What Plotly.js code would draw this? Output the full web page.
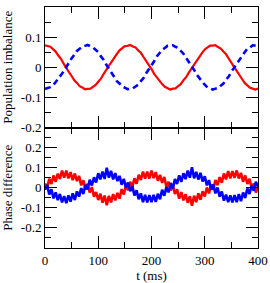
<!DOCTYPE html>
<html><head><meta charset="utf-8">
<script src="https://cdn.plot.ly/plotly-3.0.1.min.js"></script>
<style>html,body{margin:0;padding:0;background:#fff;}#plot{width:270px;height:283px;}</style>
</head><body><div id="plot"></div>
<script>
// Top panel: population imbalance, t every 5 ms
const tTop = [0,5,10,15,20,25,30,35,40,45,50,55,60,65,70,75,80,85,90,95,100,105,110,115,120,125,130,135,140,145,150,155,160,165,170,175,180,185,190,195,200,205,210,215,220,225,230,235,240,245,250,255,260,265,270,275,280,285,290,295,300,305,310,315,320,325,330,335,340,345,350,355,360,365,370,375,380,385,390,395,400];
const popRed = [0.073,0.071,0.068,0.060,0.052,0.039,0.028,0.012,0.000,-0.016,
-0.029,-0.043,-0.052,-0.063,-0.067,-0.073,-0.072,-0.071,-0.065,-0.059,
-0.048,-0.038,-0.023,-0.011,0.005,0.018,0.033,0.044,0.056,0.063,
0.070,0.071,0.074,0.069,0.066,0.056,0.048,0.034,0.022,0.006,
-0.006,-0.022,-0.034,-0.047,-0.056,-0.065,-0.069,-0.074,-0.071,-0.070,
-0.063,-0.056,-0.043,-0.033,-0.018,-0.005,0.011,0.023,0.038,0.048,
0.059,0.065,0.072,0.072,0.073,0.067,0.062,0.052,0.043,0.029,
0.017,0.001,-0.012,-0.028,-0.039,-0.052,-0.060,-0.068,-0.071,-0.074,
-0.071];
const popBlue = [-0.072,-0.070,-0.066,-0.061,-0.050,-0.041,-0.026,-0.014,0.002,0.015,
0.030,0.041,0.054,0.061,0.069,0.071,0.074,0.070,0.066,0.058,
0.050,0.036,0.025,0.009,-0.005,-0.019,-0.031,-0.046,-0.054,-0.064,
-0.068,-0.073,-0.072,-0.070,-0.064,-0.058,-0.046,-0.036,-0.020,-0.008,
0.008,0.020,0.036,0.046,0.058,0.064,0.071,0.072,0.073,0.068,
0.064,0.054,0.045,0.031,0.019,0.003,-0.009,-0.025,-0.036,-0.050,
-0.058,-0.067,-0.070,-0.074,-0.071,-0.069,-0.061,-0.054,-0.041,-0.031,
-0.015,-0.002,0.014,0.026,0.041,0.050,0.062,0.066,0.073,0.072,
0.071];

// Bottom panel: phase difference, t every 4 ms (noisy traces)
const tBot = [0,4,8,12,16,20,24,28,32,36,40,44,48,52,56,60,64,68,72,76,80,84,88,92,96,100,104,108,112,116,120,124,128,132,136,140,144,148,152,156,160,164,168,172,176,180,184,188,192,196,200,204,208,212,216,220,224,228,232,236,240,244,248,252,256,260,264,268,272,276,280,284,288,292,296,300,304,308,312,316,320,324,328,332,336,340,344,348,352,356,360,364,368,372,376,380,384,388,392,396,400];
const phaseRed = [0.021,-0.003,0.045,0.019,0.061,0.030,0.070,0.044,0.085,0.051,
0.085,0.047,0.078,0.038,0.071,0.033,0.059,0.012,0.037,-0.009,
0.020,-0.024,0.003,-0.044,-0.021,-0.061,-0.030,-0.074,-0.039,-0.087,
-0.040,-0.073,-0.032,-0.063,-0.026,-0.054,-0.007,-0.034,0.014,-0.012,
0.030,0.003,0.047,0.020,0.065,0.039,0.080,0.046,0.080,0.046,
0.085,0.048,0.078,0.035,0.064,0.024,0.054,0.004,0.030,-0.014,
0.014,-0.031,-0.008,-0.054,-0.022,-0.063,-0.032,-0.075,-0.042,-0.089,
-0.040,-0.072,-0.028,-0.060,-0.018,-0.043,0.001,-0.028,0.016,-0.010,
0.039,0.013,0.053,0.025,0.071,0.042,0.083,0.047,0.083,0.049,
0.086,0.046,0.074,0.030,0.061,0.019,0.045,-0.001,0.021,-0.024,
0.003];
const phaseBlue = [-0.010,0.014,-0.033,-0.008,-0.053,-0.023,-0.062,-0.031,-0.073,-0.042,
-0.077,-0.038,-0.069,-0.028,-0.061,-0.018,-0.044,-0.002,-0.031,0.015,
-0.009,0.040,0.011,0.052,0.026,0.072,0.042,0.080,0.044,0.100,
0.050,0.084,0.042,0.073,0.033,0.059,0.015,0.044,0.001,0.026,
-0.017,0.008,-0.039,-0.013,-0.057,-0.028,-0.072,-0.036,-0.073,-0.037,
-0.072,-0.035,-0.070,-0.030,-0.057,-0.010,-0.040,0.003,-0.023,0.024,
-0.004,0.043,0.019,0.062,0.029,0.072,0.043,0.085,0.050,0.102,
0.047,0.079,0.041,0.074,0.031,0.057,0.012,0.038,-0.010,0.016,
-0.028,0.001,-0.044,-0.019,-0.064,-0.034,-0.072,-0.038,-0.073,-0.037,
-0.072,-0.032,-0.067,-0.024,-0.051,-0.004,-0.031,0.011,-0.015,0.030,
0.005];

const topTickVals = [-0.2,-0.1,0,0.1,0.2];
const topTickText = ['-0.2','-0.1','0','0.1','0.2'];
const botTickVals = [-0.2,-0.1,0,0.1,0.2];
const botTickText = ['-0.2','-0.1','0','0.1','0.2'];
const xTickVals = [0,100,200,300,400];
const xTickText = ['0','100','200','300','400'];

const traces = [
  {x: tTop, y: popRed, xaxis:'x2', yaxis:'y2', mode:'lines', line:{color:'#ff0000', width:2.2}, hoverinfo:'skip'},
  {x: tTop, y: popBlue, xaxis:'x2', yaxis:'y2', mode:'lines', line:{color:'#0000ff', width:2.6, dash:'6px,4px'}, hoverinfo:'skip'},
  {x: tBot, y: phaseRed, xaxis:'x', yaxis:'y', mode:'lines', line:{color:'#ff0000', width:2.6}, hoverinfo:'skip'},
  {x: tBot, y: phaseBlue, xaxis:'x', yaxis:'y', mode:'lines', line:{color:'#0000ff', width:2.6}, hoverinfo:'skip'}
];

const fnt = {family:'Liberation Serif, Times New Roman, serif', size:13, color:'#000'};
const axCommon = {
  showline:true, linecolor:'#000', linewidth:1, mirror:'ticks', ticks:'inside',
  ticklen:12, tickwidth:1, tickcolor:'#000', showgrid:false, zeroline:false,
  tickfont:fnt, fixedrange:true
};
const layout = {
  width:270, height:283, showlegend:false,
  paper_bgcolor:'#fff', plot_bgcolor:'#fff',
  margin:{l:45, r:12, t:7, b:35},
  font:fnt,
  xaxis: Object.assign({}, axCommon, {range:[0,400], domain:[0,1], anchor:'y',
    tickmode:'array', tickvals:xTickVals, ticktext:xTickText,
    minor:{ticks:'inside', ticklen:6, dtick:50, tickcolor:'#000', tickwidth:1},
    title:{text:'t (ms)', font:fnt, standoff:2}}),
  yaxis: Object.assign({}, axCommon, {range:[-0.3,0.3], domain:[0,0.5], anchor:'x',
    tickmode:'array', tickvals:botTickVals, ticktext:botTickText,
    minor:{ticks:'inside', ticklen:6, dtick:0.05, tick0:0, tickcolor:'#000', tickwidth:1},
    title:{text:'Phase difference', font:fnt, standoff:6}}),
  xaxis2: Object.assign({}, axCommon, {range:[0,400], domain:[0,1], anchor:'y2', showticklabels:false,
    tickmode:'array', tickvals:xTickVals,
    minor:{ticks:'inside', ticklen:6, dtick:50, tickcolor:'#000', tickwidth:1}}),
  yaxis2: Object.assign({}, axCommon, {range:[-0.2,0.2], domain:[0.5,1], anchor:'x2',
    tickmode:'array', tickvals:topTickVals, ticktext:topTickText,
    minor:{ticks:'inside', ticklen:6, dtick:0.05, tick0:0, tickcolor:'#000', tickwidth:1},
    title:{text:'Population imbalance', font:fnt, standoff:6}})
};
Plotly.newPlot('plot', traces, layout, {staticPlot:true, displayModeBar:false});
</script></body></html>
